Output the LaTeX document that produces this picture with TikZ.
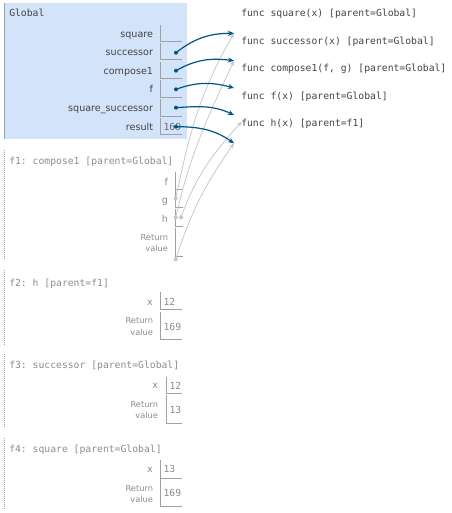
\documentclass[tikz,border=0pt]{standalone}
\usepackage{fontspec}
\setmainfont{DejaVu Sans}
\setmonofont{DejaVu Sans Mono}
\usetikzlibrary{arrows.meta}
\definecolor{framebg}{RGB}{211,227,249}
\definecolor{ptrdark}{HTML}{005583}
\definecolor{ptrlight}{HTML}{C8C8C8}
\definecolor{cellline}{HTML}{A0A0A0}
\definecolor{txtdark}{HTML}{444444}
\definecolor{txtlight}{HTML}{8C8C8C}

\begin{document}
\begin{tikzpicture}[x=0.75pt, y=0.75pt]
    \tikzstyle{mono} = [inner sep=0pt, anchor=base west, font=\ttfamily\fontsize{7.3}{9}\selectfont]
    \tikzstyle{varname} = [inner sep=0pt, anchor=base east, font=\fontsize{7.2}{9}\selectfont]
    \tikzstyle{retname} = [inner sep=0pt, anchor=base east, text=txtlight, font=\fontsize{6.2}{8}\selectfont]
    \tikzstyle{cell} = [cellline, line width=0.75pt]
    \tikzstyle{darkptr} = [ptrdark, line width=0.9pt, -{Stealth[length=4.5pt, width=3.8pt]}]
    \tikzstyle{lightptr} = [ptrlight, line width=0.6pt, -{Stealth[length=4pt, width=3.4pt]}]
    \useasboundingbox (0,0) rectangle (451,-513);

    % Global frame
    \fill[framebg] (4,-3) rectangle (187,-139);
    \draw[cell] (4.3,-3) -- (4.3,-139);
    \node[mono, text=txtdark] (gtitle) at (9,-16.5) {Global};
    \node[varname, text=txtdark] (gsquare) at (153.3,-37.8) {square};
    \node[varname, text=txtdark] (gsuccessor) at (153.3,-56) {successor};
    \node[varname, text=txtdark] (gcompose) at (153.3,-74.3) {compose1};
    \node[varname, text=txtdark] (gf) at (153.3,-92.8) {f};
    \node[varname, text=txtdark] (gsqsucc) at (153.3,-111.4) {square\_successor};
    \node[varname, text=txtdark] (gresult) at (153.3,-130.5) {result};
    \draw[cell] (160.3,-25) -- (160.3,-42) -- (181.7,-42);
    \draw[cell] (160.3,-43.5) -- (160.3,-60) -- (181.7,-60);
    \draw[cell] (160.3,-62) -- (160.3,-79) -- (181.7,-79);
    \draw[cell] (160.3,-80.5) -- (160.3,-98) -- (181.7,-98);
    \draw[cell] (160.3,-99.5) -- (160.3,-117) -- (181.7,-117);
    \draw[cell] (160.3,-118) -- (160.3,-135) -- (181.7,-135);
    \node[mono, text=txtdark!80] (vresult) at (163.3,-131) {169};

    % function objects
    \node[mono, text=txtdark] (fsquare) at (241,-17) {func square(x) [parent=Global]};
    \node[mono, text=txtdark] (fsuccessor) at (241,-45) {func successor(x) [parent=Global]};
    \node[mono, text=txtdark] (fcompose) at (241,-71.5) {func compose1(f, g) [parent=Global]};
    \node[mono, text=txtdark] (ff) at (241,-100) {func f(x) [parent=Global]};
    \node[mono, text=txtdark] (fh) at (241,-126.5) {func h(x) [parent=f1]};
    \coordinate (hsquare) at (234,-33.3);
    \coordinate (hsuccessor) at (234,-60.7);
    \coordinate (hcompose) at (234,-88);
    \coordinate (hf) at (234,-115);
    \coordinate (hh) at (234,-143.3);
    \coordinate (hhtext) at (241.7,-121.7);

    % f1
    \draw[cell, line width=0.6pt, dash pattern=on 0.75pt off 0.75pt] (4.3,-150) -- (4.3,-260);
    \node[mono, text=txtlight] (f1title) at (9,-164.5) {f1: compose1 [parent=Global]};
    \node[varname, text=txtlight] (f1f) at (168.3,-185.4) {f};
    \node[varname, text=txtlight] (f1g) at (168.3,-203.3) {g};
    \node[varname, text=txtlight] (f1h) at (168.3,-222.5) {h};
    \node[retname] (f1ret) at (168.3,-240.5) {Return};
    \node[retname] (f1val) at (168.3,-251) {value};
    \draw[cell] (175.5,-172) -- (175.5,-189.3) -- (182.5,-189.3);
    \draw[cell] (175.5,-190.5) -- (175.5,-207) -- (182.5,-207);
    \draw[cell] (175.5,-208.5) -- (175.5,-226) -- (182.5,-226);
    \draw[cell] (175.5,-228) -- (175.5,-256.7) -- (182.5,-256.7);

    % f2
    \draw[cell, line width=0.6pt, dash pattern=on 0.75pt off 0.75pt] (4.3,-270) -- (4.3,-345);
    \node[mono, text=txtlight] (f2title) at (9,-286.3) {f2: h [parent=f1]};
    \node[varname, text=txtlight] (f2x) at (153,-305.4) {x};
    \node[retname] (f2ret) at (153.3,-323.8) {Return};
    \node[retname] (f2val) at (153.3,-335.5) {value};
    \draw[cell] (160.3,-292.3) -- (160.3,-309.3) -- (181.7,-309.3);
    \draw[cell] (160.3,-311.7) -- (160.3,-339.3) -- (181.7,-339.3);
    \node[mono, text=txtlight] (v2x) at (163.3,-305.6) {12};
    \node[mono, text=txtlight] (v2ret) at (163.3,-330.3) {169};

    % f3
    \draw[cell, line width=0.6pt, dash pattern=on 0.75pt off 0.75pt] (4.3,-354.3) -- (4.3,-428.3);
    \node[mono, text=txtlight] (f3title) at (9,-368.8) {f3: successor [parent=Global]};
    \node[varname, text=txtlight] (f3x) at (158.3,-388.7) {x};
    \node[retname] (f3ret) at (158.3,-407.1) {Return};
    \node[retname] (f3val) at (158.3,-418.8) {value};
    \draw[cell] (166.3,-376.7) -- (166.3,-393.3) -- (181.7,-393.3);
    \draw[cell] (166.3,-395) -- (166.3,-423.3) -- (181.7,-423.3);
    \node[mono, text=txtlight] (v3x) at (169.3,-389.6) {12};
    \node[mono, text=txtlight] (v3ret) at (169.3,-413.6) {13};

    % f4
    \draw[cell, line width=0.6pt, dash pattern=on 0.75pt off 0.75pt] (4.3,-438.3) -- (4.3,-510);
    \node[mono, text=txtlight] (f4title) at (9,-452.8) {f4: square [parent=Global]};
    \node[varname, text=txtlight] (f4x) at (153,-472.7) {x};
    \node[retname] (f4ret) at (153.3,-491.1) {Return};
    \node[retname] (f4val) at (153.3,-502.1) {value};
    \draw[cell] (160.3,-460) -- (160.3,-478.3) -- (181.7,-478.3);
    \draw[cell] (160.3,-479) -- (160.3,-506.7) -- (181.7,-506.7);
    \node[mono, text=txtlight] (v4x) at (163.3,-472.9) {13};
    \node[mono, text=txtlight] (v4ret) at (163.3,-496.9) {169};

    % pointers from f1
    \coordinate (dg) at (175.7,-198.3);
    \coordinate (dhl) at (175.7,-217.3);
    \coordinate (dhr) at (181,-217.3);
    \coordinate (dret) at (175.7,-259.3);
    \draw[lightptr] (dg) to[out=78, in=240] (hsquare);
    \draw[lightptr] (dhl) to[out=77, in=245] (hsuccessor);
    \draw[lightptr] (dhr) to[out=70, in=228] (hhtext);
    \draw[lightptr] (dret) to[out=72, in=235] (hh);
    \fill[ptrlight] (dg) circle[radius=2.1];
    \fill[ptrlight] (dhl) circle[radius=2.1];
    \fill[ptrlight] (dhr) circle[radius=2.1];
    \fill[ptrlight] (dret) circle[radius=2.1];

    % pointers from Global
    \coordinate (dsuccessor) at (176,-52.7);
    \coordinate (dcompose) at (176,-70.7);
    \coordinate (df) at (176,-89.3);
    \coordinate (dsqsucc) at (176,-107.7);
    \coordinate (dresult) at (176,-126.7);
    \draw[darkptr] (dsuccessor) to[out=38, in=180] (hsquare);
    \draw[darkptr] (dcompose) to[out=30, in=173] (hsuccessor);
    \draw[darkptr] (df) to[out=20, in=165] (hcompose);
    \draw[darkptr] (dsqsucc) to[out=4, in=155] (hf);
    \draw[darkptr] (dresult) to[out=0, in=145] (hh);
    \fill[ptrdark] (dsuccessor) circle[radius=2];
    \fill[ptrdark] (dcompose) circle[radius=2];
    \fill[ptrdark] (df) circle[radius=2];
    \fill[ptrdark] (dsqsucc) circle[radius=2];
    \fill[ptrdark] (dresult) circle[radius=2];
\end{tikzpicture}
\end{document}
